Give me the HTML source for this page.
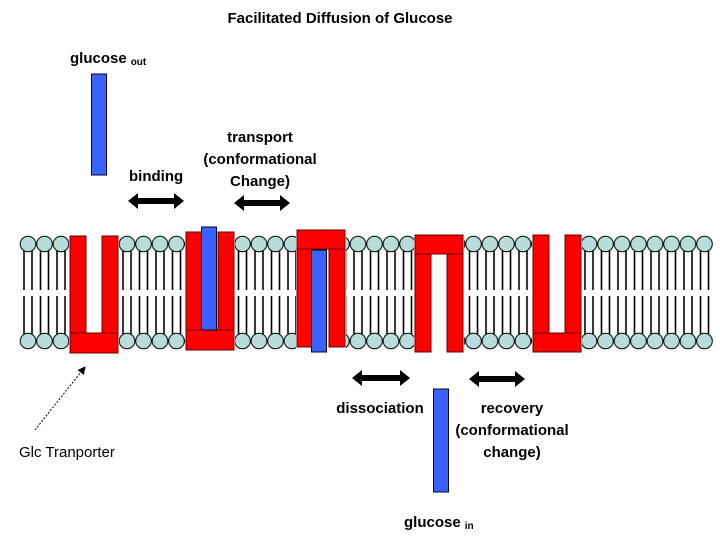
<!DOCTYPE html>
<html><head><meta charset="utf-8"><style>
html,body{margin:0;padding:0;background:#fff;}
svg{display:block;}
text{font-family:"Liberation Sans",sans-serif;font-weight:bold;fill:#000;}
</style></head><body>
<svg width="720" height="540" viewBox="0 0 720 540" xmlns="http://www.w3.org/2000/svg">
<defs>
<pattern id="lip" patternUnits="userSpaceOnUse" x="19.75" y="230" width="16.5" height="125">
<line x1="4.25" y1="20" x2="4.25" y2="60" stroke="#000" stroke-width="1.6"/>
<line x1="12.25" y1="20" x2="12.25" y2="60" stroke="#000" stroke-width="1.6"/>
<line x1="4.25" y1="66" x2="4.25" y2="104" stroke="#000" stroke-width="1.6"/>
<line x1="12.25" y1="66" x2="12.25" y2="104" stroke="#000" stroke-width="1.6"/>
<circle cx="8.25" cy="14" r="7.8" fill="#b8dcdc" stroke="#000" stroke-width="1"/>
<circle cx="8.25" cy="111" r="7.8" fill="#b8dcdc" stroke="#000" stroke-width="1"/>
</pattern>
<marker id="ah" markerWidth="8" markerHeight="8" refX="7" refY="4" orient="auto" markerUnits="userSpaceOnUse"><path d="M0,0 L8,4 L0,8 Z" fill="#000"/></marker>
</defs>
<text x="340" y="23" font-size="15" text-anchor="middle">Facilitated Diffusion of Glucose</text>
<rect x="19.75" y="230" width="693" height="125" fill="url(#lip)"/>
<g fill="#fff">
<rect x="69" y="232" width="50" height="122"/>
<rect x="185" y="228" width="50" height="124"/>
<rect x="296" y="228" width="50" height="122"/>
<rect x="414" y="232" width="50" height="122"/>
<rect x="532" y="232" width="50" height="122"/>
</g>
<g fill="#f00" stroke="#600" stroke-width="1">
<rect x="70" y="236" width="16" height="97"/><rect x="102" y="236" width="16" height="97"/><rect x="70" y="333" width="48" height="20"/>
<rect x="186" y="232" width="16" height="98"/><rect x="218" y="232" width="16" height="98"/><rect x="186" y="330" width="48" height="20"/>
<rect x="297" y="230" width="48" height="19"/><rect x="297" y="249" width="16" height="98"/><rect x="329" y="249" width="16" height="98"/>
<rect x="415" y="235" width="48" height="19"/><rect x="415" y="254" width="16" height="98"/><rect x="447" y="254" width="16" height="98"/>
<rect x="533" y="235" width="16" height="98"/><rect x="565" y="235" width="16" height="98"/><rect x="533" y="333" width="48" height="19"/>
</g>
<g fill="#3a62ff" stroke="#002" stroke-width="1">
<rect x="201.5" y="227" width="15" height="103"/>
<rect x="311.5" y="250" width="15" height="102"/>
<rect x="91.5" y="74" width="15" height="101"/>
<rect x="433.5" y="389" width="15" height="103"/>
</g>
<g fill="#000">
<path d="M128,201 l10,-8 v5 h36 v-5 l10,8 l-10,8 v-5 h-36 v5z"/>
<path d="M234,203 l10,-8 v5 h36 v-5 l10,8 l-10,8 v-5 h-36 v5z"/>
<path d="M352,378 l10,-8 v5 h38 v-5 l10,8 l-10,8 v-5 h-38 v5z"/>
<path d="M469,379 l10,-8 v5 h36 v-5 l10,8 l-10,8 v-5 h-36 v5z"/>
</g>
<line x1="35" y1="430" x2="85" y2="367" stroke="#000" stroke-width="1" stroke-dasharray="2,1.5" marker-end="url(#ah)"/>
<text x="70" y="63" font-size="15">glucose<tspan font-size="10" dx="4" dy="2">out</tspan></text>
<text x="129" y="181" font-size="15">binding</text>
<text x="260" y="142" font-size="15" text-anchor="middle">transport</text>
<text x="260" y="164" font-size="15" text-anchor="middle">(conformational</text>
<text x="260" y="186" font-size="15" text-anchor="middle">Change)</text>
<text x="380" y="413" font-size="15" text-anchor="middle">dissociation</text>
<text x="512" y="413" font-size="15" text-anchor="middle">recovery</text>
<text x="512" y="435" font-size="15" text-anchor="middle">(conformational</text>
<text x="512" y="457" font-size="15" text-anchor="middle">change)</text>
<text x="404" y="527" font-size="15">glucose<tspan font-size="10" dx="4" dy="2">in</tspan></text>
<text x="19" y="457" font-size="15" style="font-weight:normal">Glc Tranporter</text>
</svg>
</body></html>
